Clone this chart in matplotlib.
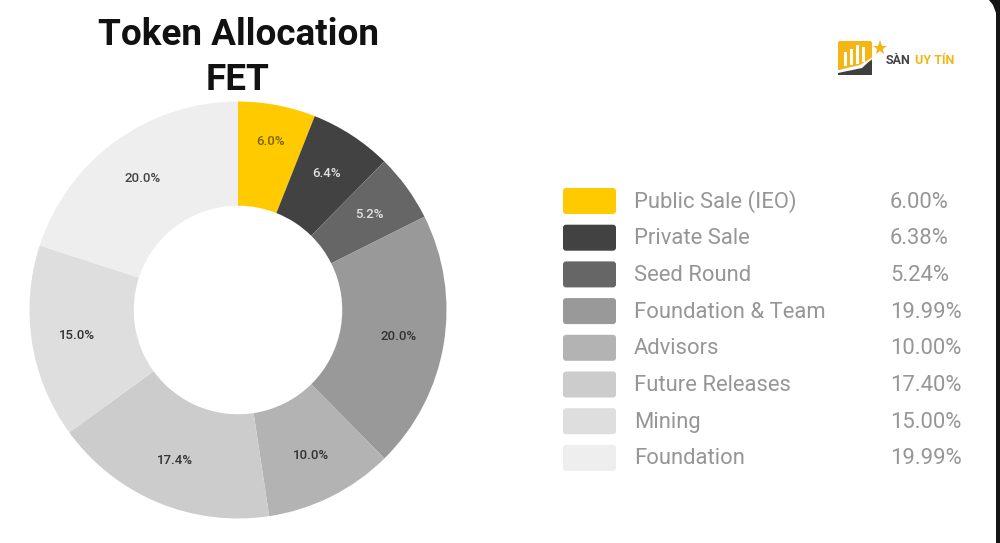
import matplotlib
matplotlib.use('Agg')
import matplotlib.pyplot as plt
from matplotlib.patches import FancyBboxPatch, Rectangle, Polygon

# Данные
categories = ['Public Sale (IEO)', 'Private Sale', 'Seed Round', 'Foundation & Team',
              'Advisors', 'Future Releases', 'Mining', 'Foundation']
values = [6.00, 6.38, 5.24, 19.99, 10.00, 17.40, 15.00, 19.99]
colors = ['#ffcb00', '#424242', '#666666', '#999999',
          '#b3b3b3', '#cccccc', '#dedede', '#eeeeee']
label_colors = ['#7a6200', '#e0e0e0', '#e0e0e0', '#333333',
                '#333333', '#333333', '#333333', '#444444']
title_lines = ['Token Allocation', 'FET']

plt.rcParams['font.family'] = ['Roboto', 'DejaVu Sans']

W, H = 1000, 543
fig = plt.figure(figsize=(W / 100, H / 100), dpi=100)

# Холст в пикселях для текста и легенды
bg = fig.add_axes([0, 0, 1, 1])
bg.set_xlim(0, W)
bg.set_ylim(H, 0)
bg.axis('off')

# Чёрная рамка справа
bg.add_patch(Polygon([(989, 0), (993, 5), (996, 13), (996, H), (W, H), (W, 0)], fc='#141414', ec='none'))

# Кольцевая диаграмма
cx, cy, r = 238, 310, 208.5
ax = fig.add_axes([(cx - r) / W, (H - cy - r) / H, 2 * r / W, 2 * r / H])
wedges, texts, autotexts = ax.pie(values, colors=colors, startangle=90, counterclock=False,
                                  radius=1, autopct='%.1f%%', pctdistance=0.78,
                                  wedgeprops=dict(width=0.5, linewidth=0))
ax.set_xlim(-1, 1)
ax.set_ylim(-1, 1)
for t, c in zip(autotexts, label_colors):
    t.set_color(c)
    t.set_fontsize(9.5)
    t.set_fontweight('medium')
# подпись первого сектора в оригинале выше остальных
x0, y0 = autotexts[0].get_position()
autotexts[0].set_position((x0 + 0.01, y0 + 0.04))

# Заголовок
bg.text(238, 35, title_lines[0], ha='center', va='center', fontsize=26.6,
        fontweight='bold', color='#111111')
bg.text(238, 80, title_lines[1], ha='center', va='center', fontsize=26.6,
        fontweight='bold', color='#111111')

# Легенда
row_y = 201
row_step = 36.7
for i, (name, val, col) in enumerate(zip(categories, values, colors)):
    y = row_y + i * row_step
    bg.add_patch(FancyBboxPatch((563, y - 13), 53, 26, boxstyle='round,pad=0,rounding_size=3',
                                fc=col, ec='none'))
    bg.text(634, y + 1, name, ha='left', va='center', fontsize=15.8, color='#969696')
    bg.text(890, y + 1, f'{val:.2f}%', ha='left', va='center', fontsize=15.8, color='#969696')

# Логотип
bg.add_patch(FancyBboxPatch((838, 41), 34, 34, boxstyle='round,pad=0,rounding_size=2',
                            fc='#f5b514', ec='none'))
bg.add_patch(Polygon([(838, 70), (860, 66), (872, 60), (872, 75), (838, 75)], fc='#3f3f3f', ec='none'))
bg.add_patch(Polygon([(838, 70), (860, 65), (876, 55), (862, 68), (838, 73)], fc='white', ec='none'))
for x0, top in zip([844, 850, 856, 862], [52, 49, 45, 47]):
    bg.add_patch(Rectangle((x0, top), 3, 66 - top - (x0 - 844) * 0.2, fc='white', ec='none'))
bg.plot([880], [48], marker='*', ms=11, color='#f5b514', mew=0)
bg.text(886, 60, 'SÀN', ha='left', va='center', fontsize=9, fontweight='bold', color='#444444')
bg.text(915, 60, 'UY TÍN', ha='left', va='center', fontsize=9, fontweight='bold', color='#f5b514')

fig.savefig('out.png', dpi=100)
